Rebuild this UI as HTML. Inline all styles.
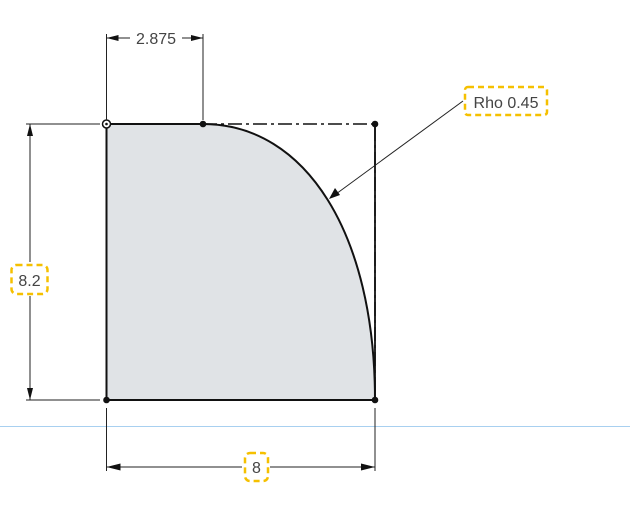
<!DOCTYPE html>
<html><head><meta charset="utf-8">
<style>
html,body{margin:0;padding:0;background:#fff;width:630px;height:516px;overflow:hidden}
svg{display:block;font-family:"Liberation Sans",sans-serif}
</style></head>
<body>
<svg id="sk" width="630" height="516" viewBox="0 0 630 516">
<defs>
<marker id="ar" viewBox="0 0 12 6" refX="12" refY="3" markerWidth="12" markerHeight="6" orient="auto-start-reverse" markerUnits="userSpaceOnUse">
<path d="M0,0 L12,3 L0,6 z" fill="#111"/>
</marker>
</defs>
<line x1="0" y1="426.5" x2="630" y2="426.5" stroke="#a8d0f0" stroke-width="1"/>
<g id="shape"></g>
<g id="dims"></g>
</svg>
<script>
const dimLabels = ["2.875", "8.2", "8"];
const dimValues = [2.875, 8.2, 8];
const rhoValues = [0.45];

const NS = "http://www.w3.org/2000/svg";
const L = 106.5, R = 375, T = 124, B = 400;
const sx = (R - L) / dimValues[2];
const tx = L + dimValues[0] * sx;
const rho = rhoValues[0];
const k = rho / 0.75;

function mk(tag, attrs, parent) {
  const e = document.createElementNS(NS, tag);
  for (const a in attrs) e.setAttribute(a, attrs[a]);
  parent.appendChild(e);
  return e;
}
const shape = document.getElementById('shape');
const dims = document.getElementById('dims');

const c1x = tx + k * (R - tx), c1y = T;
const c2x = R, c2y = B + k * (T - B);
const curveD = `M${tx},${T} C${c1x},${c1y} ${c2x},${c2y} ${R},${B}`;

const fill = mk('path', {d: `M${L},${T} L${tx},${T} C${c1x},${c1y} ${c2x},${c2y} ${R},${B} L${L},${B} Z`, fill: '#e0e3e6', stroke: 'none'}, shape);



const cl = mk('path', {d: `M${tx},${T} L${R},${T} L${R},${B}`, fill: 'none', stroke: '#111', 'stroke-width': 1.5, 'stroke-dasharray': '14,4,3,4'}, shape);


const cv = mk('line', {x1: R, y1: T, x2: R, y2: B, stroke: '#111', 'stroke-width': 1.8}, shape);



const edges = [[L, T, tx, T, 'top-edge'], [L, T, L, B, 'left-edge'], [L, B, R, B, 'bottom-edge']];
edges.forEach(e => {
  const ln = mk('line', {x1: e[0], y1: e[1], x2: e[2], y2: e[3], stroke: '#111', 'stroke-width': 2}, shape);
  
  
});
const cp = mk('path', {d: curveD, fill: 'none', stroke: '#111', 'stroke-width': 2}, shape);



const pts = [[tx, T], [R, T], [L, B], [R, B]];
pts.forEach(p => {
  const c = mk('circle', {cx: p[0], cy: p[1], r: 3.3, fill: '#111'}, shape);
  
  
});
const o1 = mk('circle', {cx: L, cy: T, r: 4, fill: '#fff', stroke: '#111', 'stroke-width': 1.5}, shape);


mk('circle', {cx: L, cy: T, r: 1.3, fill: '#111'}, shape);

function line(x1, y1, x2, y2, name, arrows) {
  const a = {x1, y1, x2, y2, stroke: '#222', 'stroke-width': 1};
  if (arrows) { a['marker-start'] = 'url(#ar)'; a['marker-end'] = 'url(#ar)'; }
  const ln = mk('line', a, dims);
  
  
}
// 2.875 dimension
line(L, 34, L, T - 4, 'ext-line-left', false);
line(tx, 34, tx, T - 4, 'ext-line-tangent', false);
line(L, 38, 130, 38, 'dim-line-2875-a', false);
line(182, 38, tx, 38, 'dim-line-2875-b', false);
mk('path', {d: `M${L},38 l12,-3 v6 z M${tx},38 l-12,-3 v6 z`, fill: '#111'}, dims);
const t1 = mk('text', {x: 156, y: 44, 'text-anchor': 'middle', 'font-size': 16, fill: '#444'}, dims);
t1.textContent = dimLabels[0];



// 8.2 dimension
line(26, T, 100, T, 'ext-line-top', false);
line(26, B, 100, B, 'ext-line-bottom', false);
line(30, T, 30, 262, 'dim-line-82-a', false);
line(30, 296, 30, B, 'dim-line-82-b', false);
mk('path', {d: `M30,${T} l-3,12 h6 z M30,${B} l-3,-12 h6 z`, fill: '#111'}, dims);
const b2 = mk('rect', {x: 11.5, y: 265, width: 36, height: 29, rx: 5, fill: '#fff', stroke: '#f5c000', 'stroke-width': 2.5, 'stroke-dasharray': '6,4'}, dims);


const t2 = mk('text', {x: 29.5, y: 286, 'text-anchor': 'middle', 'font-size': 16, fill: '#444'}, dims);
t2.textContent = dimLabels[1];



// 8 dimension
line(L, 408, L, 471, 'ext-line-left-bottom', false);
line(R, 408, R, 471, 'ext-line-right-bottom', false);
line(L, 467, 242, 467, 'dim-line-8-a', false);
line(270, 467, R, 467, 'dim-line-8-b', false);
mk('path', {d: `M${L},467 l14,-3.5 v7 z M${R},467 l-14,-3.5 v7 z`, fill: '#111'}, dims);
const b3 = mk('rect', {x: 245, y: 453, width: 23, height: 28, rx: 5, fill: '#fff', stroke: '#f5c000', 'stroke-width': 2.5, 'stroke-dasharray': '6,4'}, dims);


const t3 = mk('text', {x: 256.5, y: 473, 'text-anchor': 'middle', 'font-size': 16, fill: '#444'}, dims);
t3.textContent = dimLabels[2];



// Rho leader
line(463, 101, 336, 194, 'rho-leader-line', false);
mk('path', {d: 'M329,199 l6,-11 l5,7 z', fill: '#111'}, dims);
const b4 = mk('rect', {x: 465, y: 87, width: 82, height: 28, rx: 3, fill: '#fff', stroke: '#f5c000', 'stroke-width': 2.5, 'stroke-dasharray': '6,4'}, dims);


const t4 = mk('text', {x: 506, y: 108, 'text-anchor': 'middle', 'font-size': 16, fill: '#444'}, dims);
t4.textContent = 'Rho ' + rhoValues[0];


</script>
</body></html>
